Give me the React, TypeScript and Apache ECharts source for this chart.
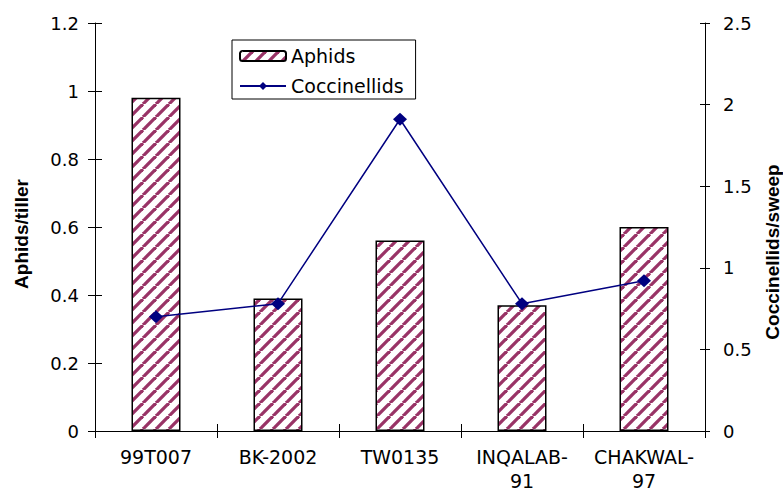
import React, { useEffect, useRef } from 'react';
import * as echarts from 'echarts';

const categories = ['99T007', 'BK-2002', 'TW0135', 'INQALAB-91', 'CHAKWAL-97'];
const aphidsPerTiller = [0.98, 0.39, 0.56, 0.37, 0.6];
const coccinellidsPerSweep = [0.7, 0.78, 1.91, 0.78, 0.92];
const leftAxisRange = [0, 1.2, 0.2];
const rightAxisRange = [0, 2.5, 0.5];
const seriesNames = ['Aphids', 'Coccinellids'];
const axisTitles = ['Aphids/tiller', 'Coccinellids/sweep'];

const FONT = '"DejaVu Sans", sans-serif';
const TITLE_FONT = '"Liberation Sans", Arial, sans-serif';
const TILE = 13;

function makeStripePattern(): string {
  const s = TILE;
  const c = document.createElement('canvas');
  c.width = s;
  c.height = s;
  const ctx = c.getContext('2d')!;
  ctx.fillStyle = '#ffffff';
  ctx.fillRect(0, 0, s, s);
  ctx.strokeStyle = '#993366';
  ctx.lineWidth = 3.3;
  for (let k = -1; k <= 1; k++) {
    ctx.beginPath();
    ctx.moveTo(k * s, s);
    ctx.lineTo(k * s + s, 0);
    ctx.stroke();
  }
  return c.toDataURL();
}

export default function App() {
  const ref = useRef<HTMLDivElement>(null);
  useEffect(() => {
    if (!ref.current) return;
    const chart = echarts.init(ref.current, undefined, { renderer: 'svg' });
    const pattern: any = { image: makeStripePattern(), repeat: 'repeat', imageWidth: TILE, imageHeight: TILE };
    const black = '#000';
    const valueAxis = (pos: string, r: number[], tickLen: number, inside: boolean, labels: boolean, margin: number) => ({
      type: 'value',
      position: pos,
      min: r[0],
      max: r[1],
      interval: r[2],
      axisLine: { show: !inside, onZero: false, lineStyle: { color: black, width: 1 } },
      axisTick: { show: true, inside, length: tickLen, lineStyle: { color: black, width: 1 } },
      axisLabel: { show: labels, margin, fontFamily: FONT, fontSize: 18, color: black },
      splitLine: { show: false },
    });
    const catAxis = (inside: boolean) => ({
      type: 'category',
      position: 'bottom',
      data: categories,
      boundaryGap: true,
      axisLine: { show: !inside, onZero: false, lineStyle: { color: black, width: 1 } },
      axisTick: { show: true, inside, length: 7, lineStyle: { color: black, width: 1 } },
      axisLabel: {
        show: !inside,
        interval: 0,
        margin: 14,
        fontFamily: FONT,
        fontSize: 19,
        lineHeight: 24,
        color: black,
        formatter: (v: string) => (v.length > 8 && v.indexOf('-') >= 0 ? v.replace('-', '-\n') : v),
      },
      splitLine: { show: false },
    });
    chart.setOption({
      animation: false,
      backgroundColor: '#fff',
      grid: { left: 95, right: 78, top: 23, bottom: 56, containLabel: false },
      legend: {
        orient: 'vertical',
        left: 232,
        top: 40,
        itemWidth: 46,
        itemHeight: 10,
        itemGap: 10,
        padding: [6, 12, 3, 7],
        borderColor: black,
        borderWidth: 1,
        backgroundColor: '#fff',
        textStyle: { fontFamily: FONT, fontSize: 19, color: black, lineHeight: 20 },
        data: seriesNames,
      },
      xAxis: [catAxis(false), catAxis(true)],
      yAxis: [
        valueAxis('left', leftAxisRange, 7, false, true, 16),
        valueAxis('right', rightAxisRange, 5, false, true, 18),
        valueAxis('left', leftAxisRange, 7, true, false, 16),
        valueAxis('right', rightAxisRange, 5, true, false, 18),
      ],
      series: [
        {
          name: seriesNames[0],
          type: 'bar',
          xAxisIndex: 0,
          yAxisIndex: 0,
          barWidth: 49,
          data: aphidsPerTiller,
          itemStyle: { color: pattern, borderColor: black, borderWidth: 1.5 },
        },
        {
          name: seriesNames[1],
          type: 'line',
          xAxisIndex: 0,
          yAxisIndex: 1,
          data: coccinellidsPerSweep,
          symbol: 'diamond',
          symbolSize: [14, 13],
          lineStyle: { color: '#000080', width: 1.5 },
          itemStyle: { color: '#000080' },
        },
      ],
      graphic: [
        {
          type: 'text',
          x: 21,
          y: 234,
          rotation: Math.PI / 2,
          style: {
            text: axisTitles[0],
            fontFamily: TITLE_FONT,
            fontWeight: 'bold',
            fontSize: 19,
            fill: black,
            align: 'center',
            verticalAlign: 'middle',
          },
        },
        {
          type: 'text',
          x: 772,
          y: 252,
          rotation: Math.PI / 2,
          style: {
            text: axisTitles[1],
            fontFamily: TITLE_FONT,
            fontWeight: 'bold',
            fontSize: 19,
            fill: black,
            align: 'center',
            verticalAlign: 'middle',
          },
        },
      ],
    });
    return () => chart.dispose();
  }, []);
  return <div ref={ref} style={{ position: 'fixed', left: 0, top: 0, width: 783, height: 493 }} />;
}
